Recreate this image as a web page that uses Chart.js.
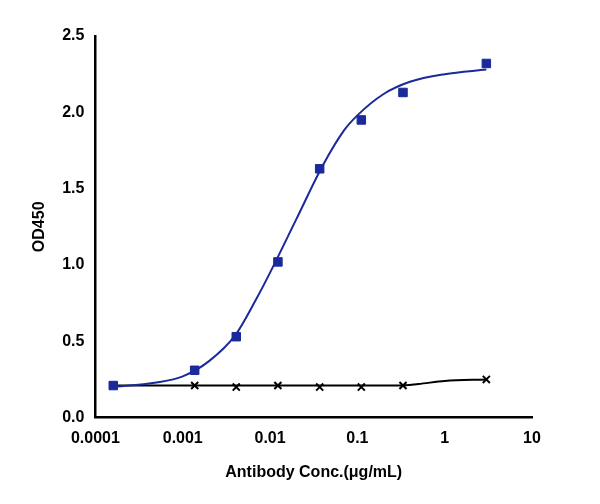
<!DOCTYPE html>
<html><head><script src="https://cdn.jsdelivr.net/npm/chart.js@4"></script>
<style>body{margin:0;background:#fff}#w{width:600px;height:504px}</style></head>
<body><div id="w"><canvas id="c"></canvas></div>
<script>
const conc=[0.00016,0.00137,0.0041,0.0123,0.037,0.111,0.333,3];
const target=[0.21,0.31,0.53,1.02,1.63,1.95,2.13,2.32];
const control=[0.21,0.21,0.20,0.21,0.20,0.20,0.21,0.25];
const fitX=[0.00015,0.0005,0.001,0.002,0.004,0.007,0.01,0.02,0.04,0.07,0.1,0.2,0.4,1,3];
const fitY=[0.20,0.23,0.27,0.37,0.54,0.78,0.95,1.30,1.65,1.88,1.98,2.12,2.20,2.25,2.28];
const ctrlFitX=[0.00015,0.01,0.3,0.5,1,3];
const ctrlFitY=[0.21,0.21,0.21,0.22,0.24,0.25];
const xTicks=[0.0001,0.001,0.01,0.1,1,10];
const pts=(xs,ys)=>xs.map((x,i)=>({x,y:ys[i]}));
const F={family:'Liberation Sans, Arial',size:16,weight:'bold'};
new Chart(document.getElementById('c'),{
type:'scatter',
data:{datasets:[
{data:pts(conc,target),pointStyle:'rect',pointRadius:6,backgroundColor:'#1a2a9a',borderColor:'#1a2a9a',showLine:false},
{data:pts(conc,control),pointStyle:'crossRot',pointRadius:5,borderColor:'#000',borderWidth:2,showLine:false},
{data:pts(fitX,fitY),showLine:true,pointRadius:0,borderColor:'#1a2a9a',borderWidth:2,cubicInterpolationMode:'monotone'},
{data:pts(ctrlFitX,ctrlFitY),showLine:true,pointRadius:0,borderColor:'#000',borderWidth:2,cubicInterpolationMode:'monotone'}
]},
options:{responsive:true,maintainAspectRatio:false,animation:false,
layout:{padding:{left:26,right:68,top:36,bottom:18}},
plugins:{legend:{display:false},tooltip:{enabled:false}},
scales:{
x:{type:'logarithmic',min:0.0001,max:10,
 afterBuildTicks:a=>{a.ticks=xTicks.map(v=>({value:v}));},
 ticks:{color:'#000',font:F,callback:v=>String(v),autoSkip:false,maxRotation:0},
 grid:{display:false,drawTicks:true,tickLength:8,tickColor:'#000',tickWidth:2},
 border:{color:'#000',width:2.5},
 title:{display:true,text:'Antibody Conc.(μg/mL)',color:'#000',font:F,padding:{top:12}}},
y:{min:0,max:2.5,
 ticks:{stepSize:0.5,color:'#000',font:F,callback:v=>v.toFixed(1)},
 grid:{display:false,drawTicks:true,tickLength:8,tickColor:'#000',tickWidth:2},
 border:{color:'#000',width:2.5},
 title:{display:true,text:'OD450',color:'#000',font:F,padding:{bottom:10}}}
}}});
</script></body></html>
